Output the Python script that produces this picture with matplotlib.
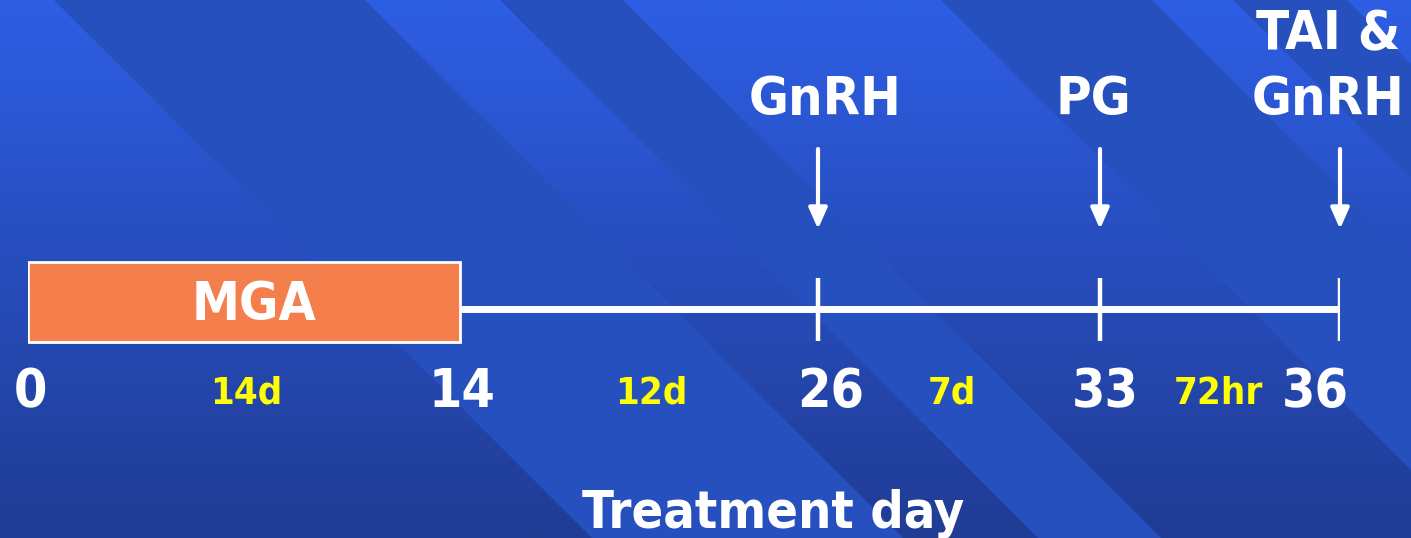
import os
import numpy as np
import matplotlib
matplotlib.use("Agg")
import matplotlib.pyplot as plt
from matplotlib import font_manager
from matplotlib.patches import Polygon

# ---------------- data ----------------
days = [0, 14, 26, 33, 36]
day_labels = ["0", "14", "26", "33", "36"]
interval_labels = ["14d", "12d", "7d", "72hr"]
mga_start, mga_end = 0, 14
mga_label = "MGA"
event_days = [26, 33, 36]
event_labels = ["GnRH", "PG", "TAI &\nGnRH"]
xlabel = "Treatment day"

# ---------------- layout / style ----------------
W, H = 1411, 538
DAY_PX = [28, 460, 818, 1100, 1340]          # where each day sits (non-linear timeline)
day_nudge = [2, 2, 13, 5, -25]                # px offsets of day numbers
interval_nudge = [2, 12, -7, -2]
event_nudge = [7, -7, -12]
mga_nudge = 10
BAND_EDGES = [(54, 365), (500, 623), (941, 1152), (1233, 1347)]
TOP = np.array([46, 94, 228]) / 255
BOT = np.array([32, 60, 148]) / 255
BAND = (39 / 255, 80 / 255, 191 / 255)
ORANGE = "#F57F4C"
YELLOW = "#FFFF00"


def pick_font():
    for f in font_manager.fontManager.ttflist:
        b = os.path.basename(f.fname)
        if b.startswith("DejaVuSansCondensed-Bold") and "Oblique" not in b:
            return font_manager.FontProperties(fname=f.fname)
    return font_manager.FontProperties(family="DejaVu Sans", weight="bold")


FP = pick_font()


def fp(size):
    p = FP.copy()
    p.set_size(size)
    return p


fig = plt.figure(figsize=(W / 100, H / 100), dpi=100)

# ---------------- background ----------------
bg = fig.add_axes([0, 0, 1, 1])
bg.set_xlim(0, W)
bg.set_ylim(H, 0)
bg.axis("off")
t = np.linspace(0, 1, 256)[:, None, None]
grad = TOP[None, None, :] * (1 - t) + BOT[None, None, :] * t
bg.imshow(grad, extent=[0, W, H, 0], aspect="auto", interpolation="bilinear", zorder=0)
for c1, c2 in BAND_EDGES:
    bg.add_patch(Polygon([(c1, 0), (c2, 0), (c2 + H, H), (c1 + H, H)],
                         closed=True, facecolor=BAND, edgecolor="none", zorder=1))

# ---------------- timeline axes ----------------
ax = fig.add_axes([DAY_PX[0] / W, 0, (DAY_PX[-1] - DAY_PX[0]) / W, 1])
ax.patch.set_alpha(0)
pos = [(p - DAY_PX[0]) / (DAY_PX[-1] - DAY_PX[0]) for p in DAY_PX]
ax.set_xscale("function", functions=(lambda d: np.interp(d, days, pos),
                                     lambda p: np.interp(p, pos, days)))
ax.set_xlim(days[0], days[-1])
ax.set_ylim(H, 0)
ax.axis("off")

# MGA bar
ax.barh(302, mga_end - mga_start, left=mga_start, height=80, color=ORANGE,
        edgecolor="white", linewidth=2, zorder=3)
ax.annotate(mga_label, xy=((mga_start + mga_end) / 2, 320), xytext=(mga_nudge, 0),
            textcoords="offset pixels", ha="center", va="baseline", color="white",
            fontproperties=fp(38.5), annotation_clip=False, zorder=4)

# main line
ax.plot([mga_end, days[-1]], [309, 309], color="white", lw=5, solid_capstyle="butt", zorder=2)
ax.vlines(event_days, 278, 341, color="white", lw=3.2, zorder=2)

# day numbers
for d, lab, dx in zip(days, day_labels, day_nudge):
    ax.annotate(lab, xy=(d, 407), xytext=(dx, 0), textcoords="offset pixels",
                ha="center", va="baseline", color="white", fontproperties=fp(38.5),
                annotation_clip=False)

# interval labels
for i, (lab, dx) in enumerate(zip(interval_labels, interval_nudge)):
    mid = ax.xaxis.get_transform().inverted().transform(
        [(ax.xaxis.get_transform().transform([days[i]])[0] +
          ax.xaxis.get_transform().transform([days[i + 1]])[0]) / 2])[0]
    ax.annotate(lab, xy=(mid, 404), xytext=(dx, 0), textcoords="offset pixels",
                ha="center", va="baseline", color=YELLOW, fontproperties=fp(27.5),
                annotation_clip=False)

# events: arrows + labels
for d, lab, dx in zip(event_days, event_labels, event_nudge):
    ax.annotate("", xy=(d, 229), xytext=(d, 149),
                arrowprops=dict(arrowstyle="-|>,head_length=0.9,head_width=0.4",
                                color="white", lw=3, shrinkA=0, shrinkB=0,
                                mutation_scale=14), annotation_clip=False)
    lines = lab.split("\n")
    for k, line in enumerate(reversed(lines)):
        ax.annotate(line, xy=(d, 115 - 66 * k), xytext=(dx, 0), textcoords="offset pixels",
                    ha="center", va="baseline", color="white", fontproperties=fp(39),
                    annotation_clip=False)

fig.text(773 / W, 1 - 528 / H, xlabel, ha="center", va="baseline", color="white",
         fontproperties=fp(37.5))

fig.savefig("out.png", dpi=100)
